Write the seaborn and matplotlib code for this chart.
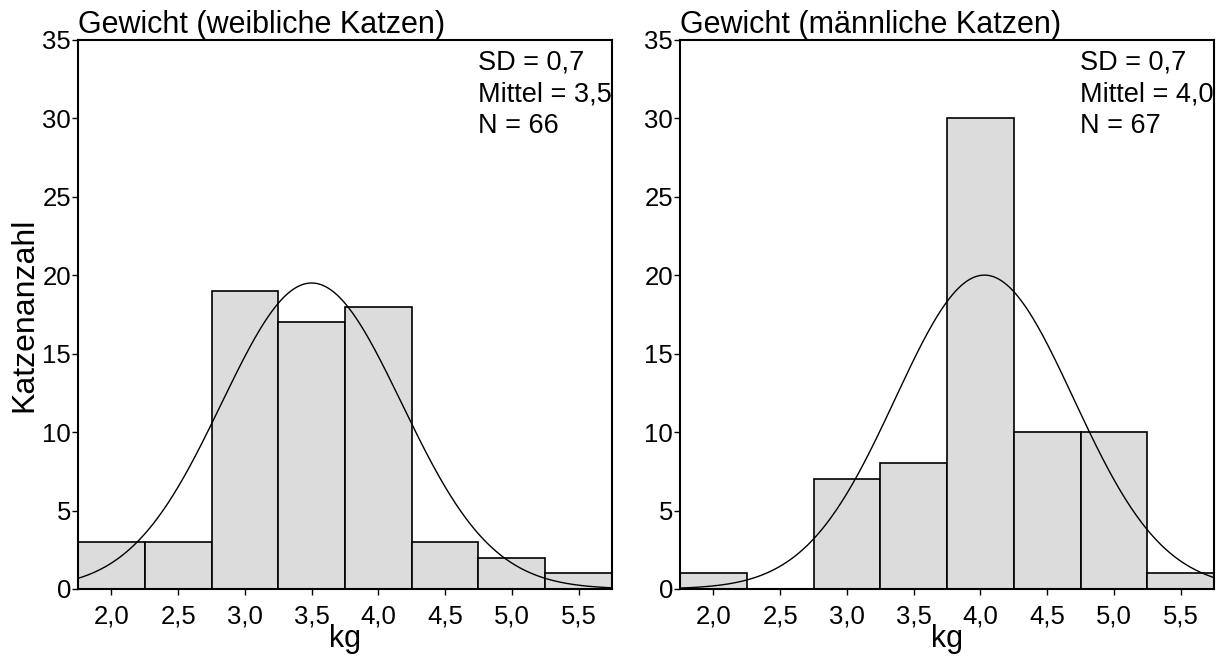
import matplotlib

matplotlib.use("Agg")
import matplotlib.pyplot as plt
import numpy as np
import pandas as pd
import seaborn as sns

# -----------------------------------------------------------------------------
# Data
# -----------------------------------------------------------------------------
bin_centers = [2.0, 2.5, 3.0, 3.5, 4.0, 4.5, 5.0, 5.5]
counts_female = [3, 3, 19, 17, 18, 3, 2, 1]
counts_male = [1, 0, 7, 8, 30, 10, 10, 1]

titles = ["Gewicht (weibliche Katzen)", "Gewicht (männliche Katzen)"]
stat_lines = [
    ["SD = 0,7", "Mittel = 3,5", "N = 66"],
    ["SD = 0,7", "Mittel = 4,0", "N = 67"],
]
# fitted normal curve parameters
curve_mean = [3.50, 4.03]
curve_sd = [0.675, 0.668]

xticks = [2.0, 2.5, 3.0, 3.5, 4.0, 4.5, 5.0, 5.5]
xtick_labels = ["2,0", "2,5", "3,0", "3,5", "4,0", "4,5", "5,0", "5,5"]
yticks = [0, 5, 10, 15, 20, 25, 30, 35]

sns.set_theme(style="white")
plt.rcParams["font.family"] = ["Liberation Sans", "DejaVu Sans"]
plt.rcParams["text.color"] = "black"
plt.rcParams["axes.labelcolor"] = "black"

fig = plt.figure(figsize=(12.21, 6.6), dpi=100)
ax_l = fig.add_axes([0.0639, 0.1076, 0.4373, 0.832])
ax_r = fig.add_axes([0.557, 0.1076, 0.4373, 0.832])

binw = 0.5

for i, (ax, counts) in enumerate(zip([ax_l, ax_r], [counts_female, counts_male])):
    df = pd.DataFrame({"kg": bin_centers, "n": counts})
    sns.histplot(
        data=df, x="kg", weights="n", binwidth=binw, binrange=(1.75, 5.75),
        ax=ax, color="#dcdcdc", alpha=1.0, edgecolor="black", linewidth=1.2,
    )
    n_total = sum(counts)
    xs = np.linspace(1.75, 5.75, 400)
    ys = n_total * binw * np.exp(-0.5 * ((xs - curve_mean[i]) / curve_sd[i]) ** 2) / (
        curve_sd[i] * np.sqrt(2 * np.pi)
    )
    sns.lineplot(x=xs, y=ys, ax=ax, color="black", linewidth=1.0)

    ax.set_xlim(1.75, 5.75)
    ax.set_ylim(0, 35)
    ax.set_xticks(xticks)
    ax.set_xticklabels(xtick_labels)
    ax.set_yticks(yticks)
    ax.tick_params(axis="both", which="major", labelsize=18.5, length=4, width=1,
                   direction="out", bottom=True, left=True, colors="black")
    ax.tick_params(axis="x", pad=7)
    ax.tick_params(axis="y", pad=1)
    for sp in ax.spines.values():
        sp.set_color("black")
        sp.set_linewidth(1.5)
    ax.set_xlabel("kg", fontsize=22, labelpad=-3)
    ax.set_ylabel("")
    ax.text(0.0, 1.0, titles[i], transform=ax.transAxes, fontsize=22,
            ha="left", va="bottom")
    ax.text(0.749, 0.982, "\n".join(stat_lines[i]), transform=ax.transAxes,
            fontsize=19.5, ha="left", va="top", linespacing=1.28)

ax_l.set_ylabel("Katzenanzahl", fontsize=23, labelpad=2)

fig.savefig("out.png", dpi=100)
